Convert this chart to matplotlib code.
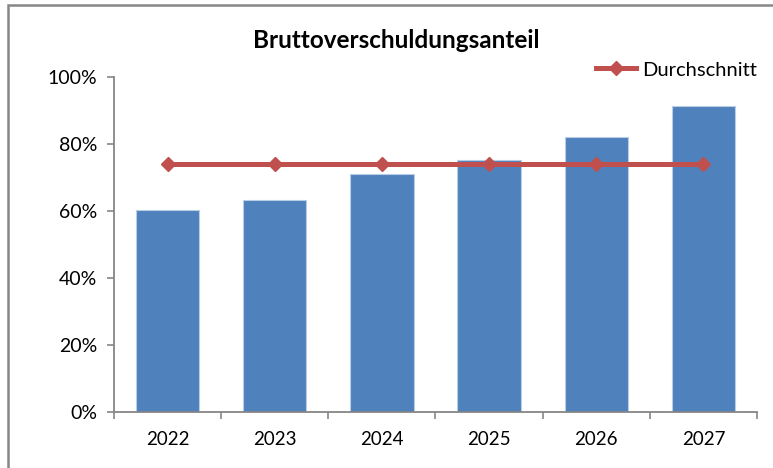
import matplotlib.pyplot as plt
import numpy as np
from matplotlib.patches import Rectangle
from matplotlib.ticker import FuncFormatter

years = ["2022", "2023", "2024", "2025", "2026", "2027"]
anteil = [0.603, 0.633, 0.710, 0.752, 0.821, 0.913]
durchschnitt = [0.739, 0.739, 0.739, 0.739, 0.739, 0.739]


def main():
    plt.rcParams['font.family'] = ['Lato', 'DejaVu Sans']
    fig = plt.figure(figsize=(7.73, 4.68), dpi=100)
    ax = fig.add_axes([114/773, 1 - 412/468, (757 - 114)/773, (412 - 77)/468])

    # chart area frame, cut off on the right and bottom like the reference
    fig.patches.append(Rectangle((8/773, -0.05), 1.0, 1 - 5/468 + 0.05,
                                 transform=fig.transFigure, fill=False,
                                 edgecolor='#878787', linewidth=1.8))

    x = np.arange(len(years))
    ax.bar(x, anteil, width=0.59, color='#4F81BD', edgecolor='#B9CDE5', linewidth=0.8, zorder=2)
    ax.plot(x, durchschnitt, '-', color='#C0504D', linewidth=3.6, marker='D',
            markersize=7.5, label="Durchschnitt", zorder=3)

    ax.set_xlim(-0.5, len(years) - 0.5)
    ax.set_ylim(0, 1.0)
    ax.set_yticks(np.arange(0, 1.01, 0.2))
    ax.yaxis.set_major_formatter(FuncFormatter(lambda v, p: f"{v*100:.0f}%"))

    ax.set_xticks(np.arange(-0.5, len(years)), labels=[])
    ax.set_xticks(x, labels=years, minor=True)
    ax.tick_params(axis='x', which='major', length=5, width=1.2, color='#868686', direction='out')
    ax.tick_params(axis='x', which='minor', length=0, pad=14, labelsize=13.5)
    ax.tick_params(axis='y', length=5, width=1.2, color='#868686', direction='out', pad=7, labelsize=14)

    for side in ['top', 'right']:
        ax.spines[side].set_visible(False)
    for side in ['left', 'bottom']:
        ax.spines[side].set_color('#868686')
        ax.spines[side].set_linewidth(1.3)

    fig.text(396/773, 1 - 40/468, "Bruttoverschuldungsanteil", ha='center', va='center',
             fontsize=17.5, fontweight='bold')

    ax.legend(loc='center right', bbox_to_anchor=(1.0, (412 - 70)/335),
              frameon=False, fontsize=14.5, handlelength=2.0, handletextpad=0.3,
              borderaxespad=0.0, borderpad=0.0)

    fig.savefig("out.png", dpi=100)


if __name__ == "__main__":
    main()
